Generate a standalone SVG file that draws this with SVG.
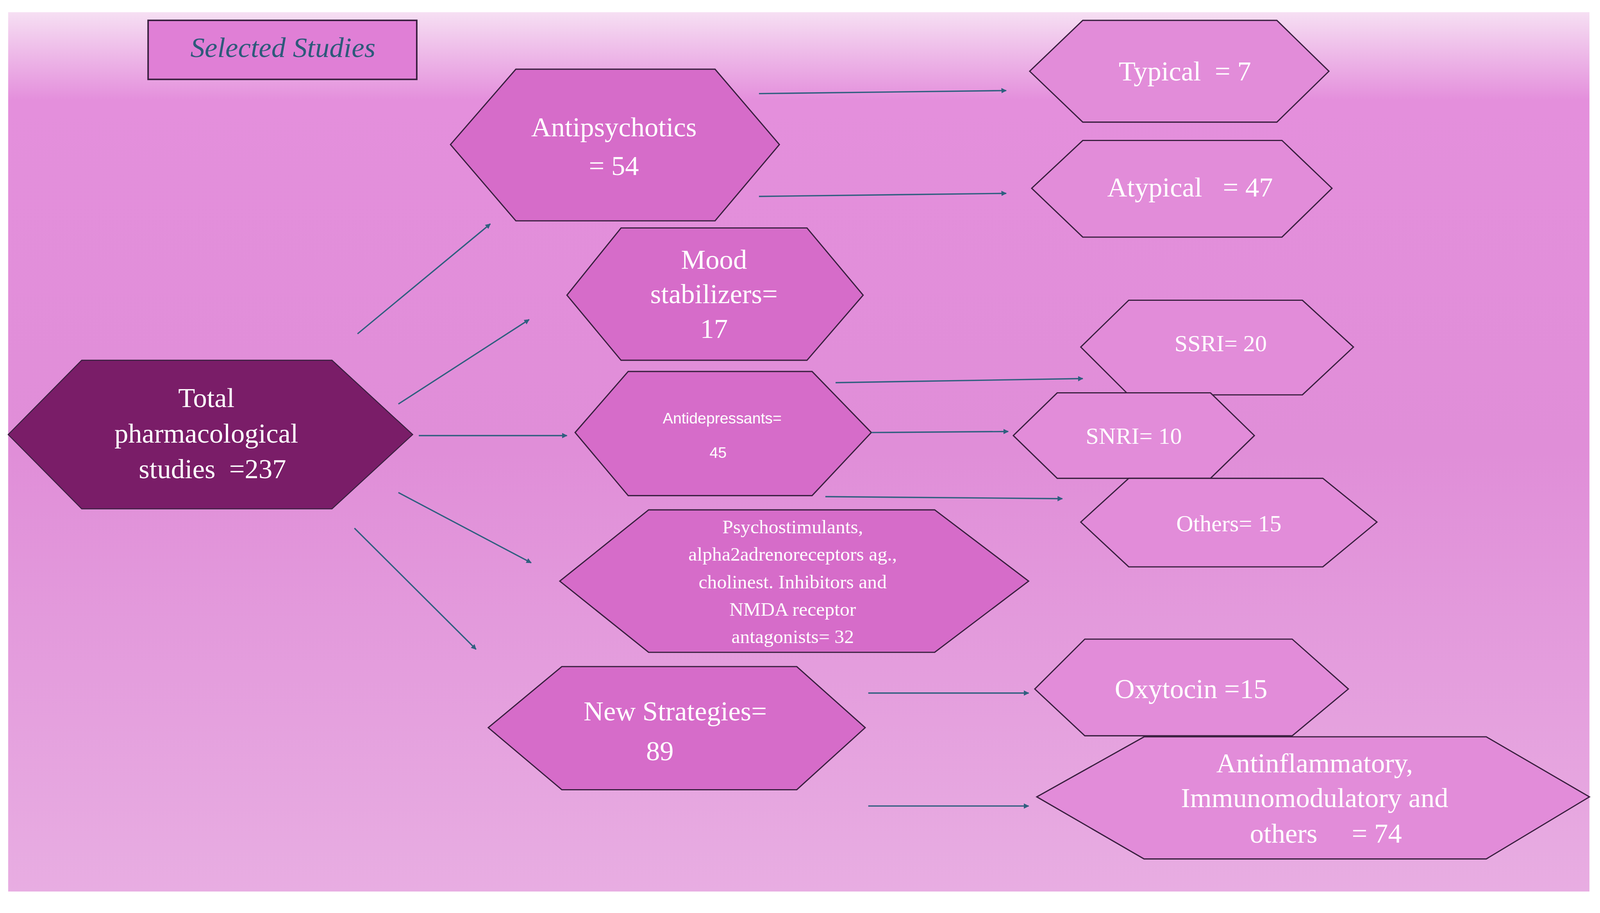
<svg xmlns="http://www.w3.org/2000/svg" width="4151" height="2337" viewBox="0 0 4151 2337" xml:space="preserve">
<defs>
<linearGradient id="bg" x1="0" y1="0" x2="0" y2="1">
<stop offset="0" stop-color="#f6dff3"/>
<stop offset="0.1" stop-color="#e48fdc"/>
<stop offset="0.5" stop-color="#e08ed8"/>
<stop offset="1" stop-color="#e8ade2"/>
</linearGradient>
<marker id="ah" viewBox="0 0 10 10" refX="9" refY="5" markerWidth="4" markerHeight="4" orient="auto"><path d="M0,0 L10,5 L0,10 z" fill="#2f5f7f"/></marker>
<style>
.h1{fill:#d66cc9;stroke:#3a2040;stroke-width:1.2}
.h2{fill:#e28cd9;stroke:#3a2040;stroke-width:1.2}
.t{font-family:"Liberation Serif",serif;fill:#fff;text-anchor:middle;white-space:pre}
.c{stroke:#2f5f7f;stroke-width:1.3;fill:none;marker-end:url(#ah)}
</style>
</defs>
<rect width="4151" height="2337" fill="#fff"/>
<g transform="scale(2.615 2.605)">
<rect x="8" y="12" width="1548" height="864" fill="url(#bg)"/>
<g id="selected"><rect x="145" y="20" width="263" height="58" fill="#e07fd6" stroke="#3a2040" stroke-width="1.5"/><text x="277" y="56" font-family="Liberation Serif,serif" font-style="italic" font-size="28" fill="#2d5a7a" text-anchor="middle">Selected Studies</text></g>
<g id="total"><polygon points="8,427 80,354 325,354 404,427 325,500 80,500" fill="#7a1d68" stroke="#3a2040"/><text class="t" font-size="27"><tspan x="202" y="400">Total</tspan><tspan x="202" y="435">pharmacological</tspan><tspan x="208" y="470">studies  =237</tspan></text></g>
<g id="antipsychotics"><polygon class="h1" points="441,142 505,68 700,68 763,142 700,217 505,217"/><text class="t" font-size="27"><tspan x="601" y="134">Antipsychotics</tspan><tspan x="601" y="172">= 54</tspan></text></g>
<g id="typical"><polygon class="h2" points="1008,70 1060,20 1250,20 1301,70 1250,120 1060,120"/><text class="t" font-size="27" x="1160" y="79">Typical  = 7</text></g>
<g id="atypical"><polygon class="h2" points="1010,185 1060,138 1255,138 1304,185 1255,233 1060,233"/><text class="t" font-size="27" x="1165" y="193">Atypical   = 47</text></g>
<g id="mood"><polygon class="h1" points="555,290 608,224 790,224 845,290 790,354 608,354"/><text class="t" font-size="27"><tspan x="699" y="264">Mood</tspan><tspan x="699" y="298">stabilizers=</tspan><tspan x="699" y="332">17</tspan></text></g>
<g id="ssri"><polygon class="h2" points="1058,341 1105,295 1275,295 1325,341 1275,388 1105,388"/><text class="t" font-size="23" x="1195" y="345">SSRI= 20</text></g>
<g id="antidep"><polygon class="h1" points="563,425 615,365 795,365 853,425 795,487 615,487"/><text class="t" font-size="15" style="font-family:'Liberation Sans',sans-serif"><tspan x="707" y="416">Antidepressants=</tspan><tspan x="703" y="450">45</tspan></text></g>
<g id="snri"><polygon class="h2" points="992,428 1035,386 1185,386 1228,428 1185,470 1035,470"/><text class="t" font-size="23" x="1110" y="436">SNRI= 10</text></g>
<g id="others"><polygon class="h2" points="1058,513 1105,470 1295,470 1348,513 1295,557 1105,557"/><text class="t" font-size="23" x="1203" y="522">Others= 15</text></g>
<g id="psycho"><polygon class="h1" points="548,571 635,501 915,501 1007,571 915,641 635,641"/><text class="t" font-size="19"><tspan x="776" y="524">Psychostimulants,</tspan><tspan x="776" y="551">alpha2adrenoreceptors ag.,</tspan><tspan x="776" y="578">cholinest. Inhibitors and</tspan><tspan x="776" y="605">NMDA receptor</tspan><tspan x="776" y="632">antagonists= 32</tspan></text></g>
<g id="newstrat"><polygon class="h1" points="478,715 550,655 780,655 847,715 780,776 550,776"/><text class="t" font-size="27"><tspan x="661" y="708">New Strategies=</tspan><tspan x="646" y="747">89</tspan></text></g>
<g id="oxytocin"><polygon class="h2" points="1013,677 1062,628 1265,628 1320,677 1265,723 1062,723"/><text class="t" font-size="27" x="1166" y="686">Oxytocin =15</text></g>
<g id="antinfl"><polygon class="h2" points="1015,783 1120,724 1455,724 1556,783 1455,844 1120,844"/><text class="t" font-size="27"><tspan x="1287" y="759">Antinflammatory,</tspan><tspan x="1287" y="793">Immunomodulatory and</tspan><tspan x="1298" y="828">others     = 74</tspan></text></g>
<g id="connectors">
<line class="c" x1="350" y1="328" x2="480" y2="220"/>
<line class="c" x1="390" y1="397" x2="518" y2="314"/>
<line class="c" x1="410" y1="428" x2="555" y2="428"/>
<line class="c" x1="390" y1="484" x2="520" y2="553"/>
<line class="c" x1="347" y1="519" x2="466" y2="638"/>
<line class="c" x1="743" y1="92" x2="985" y2="89"/>
<line class="c" x1="743" y1="193" x2="985" y2="190"/>
<line class="c" x1="818" y1="376" x2="1060" y2="372"/>
<line class="c" x1="853" y1="425" x2="987" y2="424"/>
<line class="c" x1="808" y1="488" x2="1040" y2="490"/>
<line class="c" x1="850" y1="681" x2="1007" y2="681"/>
<line class="c" x1="850" y1="792" x2="1007" y2="792"/>
</g>
</g>
</svg>
